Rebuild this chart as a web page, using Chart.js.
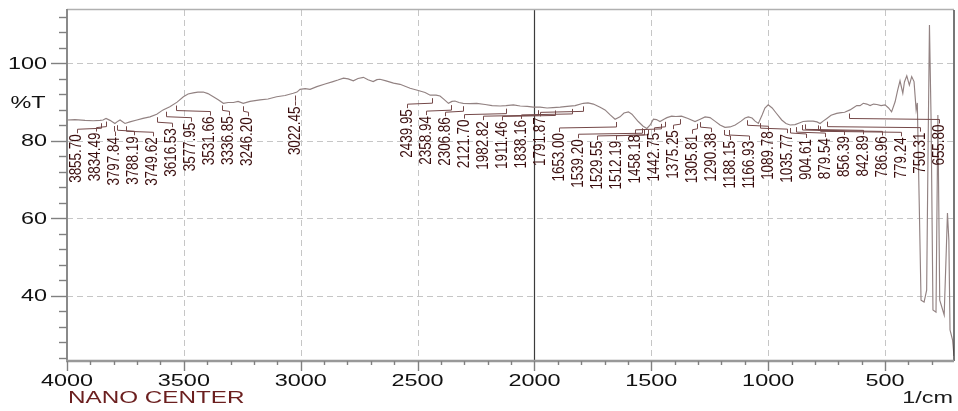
<!DOCTYPE html>
<html><head><meta charset="utf-8">
<script src="https://cdn.jsdelivr.net/npm/chart.js@4.4.1/dist/chart.umd.min.js"></script>
<style>html,body{margin:0;padding:0;background:#fff;}canvas{display:block;}</style>
</head><body>
<canvas id="c" width="958" height="411"></canvas>
<script>
// ---- data ----
const wavenumbers = [
 4000,3966,3923,3888,3859,3846,3833,3816,3795,3782,
 3773,3752,3731,3701,3675,3645,3616,3589,3560,3529,
 3502,3482,3460,3440,3417,3397,3374,3353,3331,3311,
 3288,3268,3246,3217,3174,3140,3103,3067,3032,3016,
 3003,2981,2960,2931,2896,2862,2841,2817,2797,2775,
 2755,2732,2712,2690,2674,2661,2635,2603,2575,2532,
 2497,2468,2446,2421,2404,2387,2368,2353,2340,2323,
 2305,2275,2247,2211,2181,2147,2122,2090,2061,2031,
 2005,1976,1946,1921,1890,1860,1826,1791,1771,1748,
 1719,1698,1676,1655,1634,1617,1598,1583,1556,1535,
 1519,1505,1491,1478,1463,1446,1433,1413,1395,1371,
 1343,1313,1291,1270,1249,1228,1206,1185,1163,1141,
 1116,1099,1085,1069,1056,1042,1026,1014,1000,983,
 966,942,924,906,885,864,851,830,808,791,
 778,765,749,731,707,688,673,650,637,621,
 607,593,578,564,549,535,517,500,485,472,
 457,446,436,424,417,407,396,386,376,367,
 362,354,346,333,322,316,310,303,295,282,
 274,266,247,238,233,227,222,211,205
];
const transmittance = [
 85.3,85.4,85.2,85.1,85.2,85.3,85.7,85.2,84.4,85.0,
 85.3,84.4,84.8,85.3,85.7,86.1,86.8,87.9,88.7,89.9,
 91.3,92.0,92.3,92.5,92.5,92.1,91.3,90.5,89.6,89.8,
 89.8,90.1,89.6,90.1,90.5,90.7,91.3,91.6,92.2,92.5,
 93.2,93.4,93.2,93.9,94.6,95.2,95.6,96.1,95.9,95.4,
 96.0,96.3,95.7,95.2,95.7,95.8,95.4,94.8,94.5,93.5,
 92.9,92.4,91.7,91.7,91.5,90.6,89.6,90.1,90.2,89.8,
 89.6,89.5,89.6,89.3,89.0,88.9,89.0,89.2,88.9,88.8,
 88.6,88.6,88.4,88.5,88.6,88.8,89.0,89.6,89.7,89.4,
 88.6,87.9,86.6,85.5,86.1,87.1,87.4,86.8,84.9,83.7,
 83.1,84.0,85.5,85.4,84.9,85.5,85.9,86.3,86.2,86.3,
 85.7,84.9,85.5,86.1,85.9,85.0,84.0,83.4,83.5,84.0,
 85.0,85.8,86.1,85.8,85.0,84.4,86.6,88.4,89.2,88.4,
 87.1,85.3,84.4,84.0,84.1,84.6,84.9,85.0,85.0,84.8,
 84.4,85.0,85.7,86.5,87.0,87.2,87.3,87.9,88.4,89.0,
 89.0,89.6,89.4,89.0,89.4,89.3,89.0,89.2,88.4,87.4,
 90.0,93.0,95.4,92.2,95.1,96.7,94.3,96.5,95.2,87.9,
 89.7,64.6,38.8,38.3,41.4,77.5,109.8,85.3,36.3,35.7,
 86.6,38.8,35.0,51.7,61.3,54.3,31.1,28.5,24.4
];
const peakWavenumbers = [
 3855.70,3834.49,3797.84,3788.19,3749.62,3616.53,3577.95,3531.66,3336.85,3246.20,
 3022.45,2439.95,2358.94,2306.86,2121.70,1982.82,1911.46,1838.16,1791.87,1653.00,
 1539.20,1529.55,1512.19,1458.18,1442.75,1375.25,1305.81,1290.38,1188.15,1166.93,
 1089.78,1035.77,904.61,879.54,856.39,842.89,786.96,779.24,750.31,655.80
];
const xMajorTicks = [4000,3500,3000,2500,2000,1500,1000,500];
const yMajorTicks = [100,80,60,40];
const xTitle = '1/cm';
const yTitle = '%T';
const footerText = 'NANO CENTER';

// ---- helpers ----
function interpT(wn){
  for(let i=0;i<wavenumbers.length-1;i++){
    const a=wavenumbers[i], b=wavenumbers[i+1];
    if(wn<=a && wn>=b){ const t=(a-wn)/(a-b); return transmittance[i]+t*(transmittance[i+1]-transmittance[i]); }
  }
  return transmittance[transmittance.length-1];
}
function layoutLabels(desired, gap, minX, maxX){
  let cl = desired.map((d,i)=>({s:i,n:1,sum:d}));
  const first = c => Math.min(Math.max(c.sum/c.n-(c.n-1)*gap/2, minX), maxX-(c.n-1)*gap);
  let changed=true;
  while(changed){
    changed=false;
    for(let i=0;i<cl.length-1;i++){
      const a=cl[i], b=cl[i+1];
      if(first(b)-(first(a)+(a.n-1)*gap) < gap){
        cl.splice(i,2,{s:a.s,n:a.n+b.n,sum:a.sum+b.sum}); changed=true; break;
      }
    }
  }
  const out=[];
  cl.forEach(c=>{const f=first(c); for(let k=0;k<c.n;k++) out[c.s+k]=f+k*gap;});
  return out;
}
function seg(ctx,x1,y1,x2,y2){ctx.beginPath();ctx.moveTo(x1,y1);ctx.lineTo(x2,y2);ctx.stroke();}
function wideText(ctx,text,x,y,align,sx){
  ctx.save(); ctx.translate(x,y); ctx.scale(sx,1); ctx.textAlign=align; ctx.textBaseline='middle';
  ctx.fillText(text,0,0); ctx.restore();
}

const AXIS_FONT = '16.5px "Liberation Sans", Arial, sans-serif';
const SX = 1.42;

const decor = {
  id:'decor',
  beforeDatasetsDraw(chart){
    const {ctx, chartArea:a, scales:{x,y}} = chart;
    ctx.save();
    ctx.lineWidth=1; ctx.strokeStyle='#c6c6c6'; ctx.setLineDash([6,4]);
    yMajorTicks.forEach(v=>{const py=Math.round(y.getPixelForValue(v))+0.5; seg(ctx,a.left,py,a.right,py);});
    xMajorTicks.forEach(v=>{ if(v===4000||v===2000) return;
      const px=Math.round(x.getPixelForValue(v))+0.5; seg(ctx,px,a.top,px,a.bottom);});
    ctx.setLineDash([]);
    const p2=Math.round(x.getPixelForValue(2000))+0.5;
    ctx.strokeStyle='#3c3c3c'; ctx.lineWidth=1.2; seg(ctx,p2,a.top,p2,a.bottom);
    ctx.restore();
  },
  afterDatasetsDraw(chart){
    const {ctx, chartArea:a, scales:{x,y}} = chart;
    ctx.save();
    // frame
    ctx.strokeStyle='#b0b0b0'; ctx.lineWidth=1.5; seg(ctx,a.left,a.top-0.5,a.right,a.top-0.5);
    ctx.strokeStyle='#2e2e2e'; ctx.lineWidth=1.3; seg(ctx,a.right,a.top,a.right,a.bottom);
    ctx.strokeStyle='#8a8a8a'; ctx.lineWidth=2; seg(ctx,a.left,a.top-1,a.left,a.bottom+1);
    ctx.strokeStyle='#999'; ctx.lineWidth=2.4; seg(ctx,a.left-1,a.bottom,a.right,a.bottom);
    // y ticks
    ctx.strokeStyle='#808080'; ctx.lineWidth=1.4;
    for(let v=24; v<=112; v+=4){
      const py=Math.round(y.getPixelForValue(v))+0.5;
      const major = yMajorTicks.includes(v);
      seg(ctx, a.left-(major?16:8), py, a.left, py);
    }
    // x ticks
    for(let v=300; v<=4000; v+=100){
      const px=Math.round(x.getPixelForValue(v))+0.5;
      const major = xMajorTicks.includes(v);
      seg(ctx, px, a.bottom, px, a.bottom+(major?10:4));
    }
    // axis text
    ctx.font=AXIS_FONT; ctx.fillStyle='#111';
    yMajorTicks.forEach(v=> wideText(ctx,String(v),a.left-20,y.getPixelForValue(v)+1,'right',SX));
    xMajorTicks.forEach(v=> wideText(ctx,String(v),x.getPixelForValue(v),a.bottom+20,'center',SX));
    wideText(ctx,yTitle,28,103,'center',SX);
    ctx.fillStyle='#1a1a1a';
    wideText(ctx,xTitle,a.right-1,a.bottom+37,'right',SX);
    ctx.fillStyle='#6b1f1f';
    wideText(ctx,footerText,a.left+1,a.bottom+37,'left',1.47);

    // peak labels with leader lines
    const desired = peakWavenumbers.map(w=>x.getPixelForValue(w));
    const lxs = layoutLabels(desired, 19, a.left+10, a.right-8);
    ctx.font='16px "Liberation Sans", Arial, sans-serif';
    peakWavenumbers.forEach((w,i)=>{
      const px=desired[i], lx=lxs[i];
      const cy=y.getPixelForValue(interpT(w));
      const top=cy+14;
      ctx.strokeStyle='#744848'; ctx.lineWidth=1;
      ctx.beginPath();
      ctx.moveTo(Math.round(px)+0.5, cy+3);
      ctx.lineTo(Math.round(px)+0.5, cy+8);
      ctx.lineTo(Math.round(lx)+0.5, top-5);
      ctx.lineTo(Math.round(lx)+0.5, top-1);
      ctx.stroke();
      ctx.fillStyle='#3a0d0d';
      ctx.save(); ctx.translate(lx, top); ctx.rotate(-Math.PI/2); ctx.scale(0.84,1);
      ctx.textAlign='right'; ctx.textBaseline='middle';
      ctx.fillText(w.toFixed(2),0,0); ctx.restore();
    });
    ctx.restore();
  }
};

const points = wavenumbers.map((w,i)=>({x:w, y:transmittance[i]}));
new Chart(document.getElementById('c'), {
  type:'line',
  data:{ datasets:[{ data:points, borderColor:'#928282', borderWidth:1.15, pointRadius:0, tension:0, fill:false }] },
  options:{
    responsive:false, animation:false, devicePixelRatio:1,
    layout:{ padding:{left:0,right:4,top:10,bottom:0} },
    plugins:{ legend:{display:false}, tooltip:{enabled:false} },
    scales:{
      x:{ type:'linear', reverse:true, min:205, max:4000,
          grid:{display:false}, border:{display:false}, ticks:{display:false},
          afterFit(s){ s.height=50; } },
      y:{ type:'linear', min:23.1, max:113.68,
          grid:{display:false}, border:{display:false}, ticks:{display:false},
          afterFit(s){ s.width=67; } }
    }
  },
  plugins:[decor]
});
</script>
</body></html>
